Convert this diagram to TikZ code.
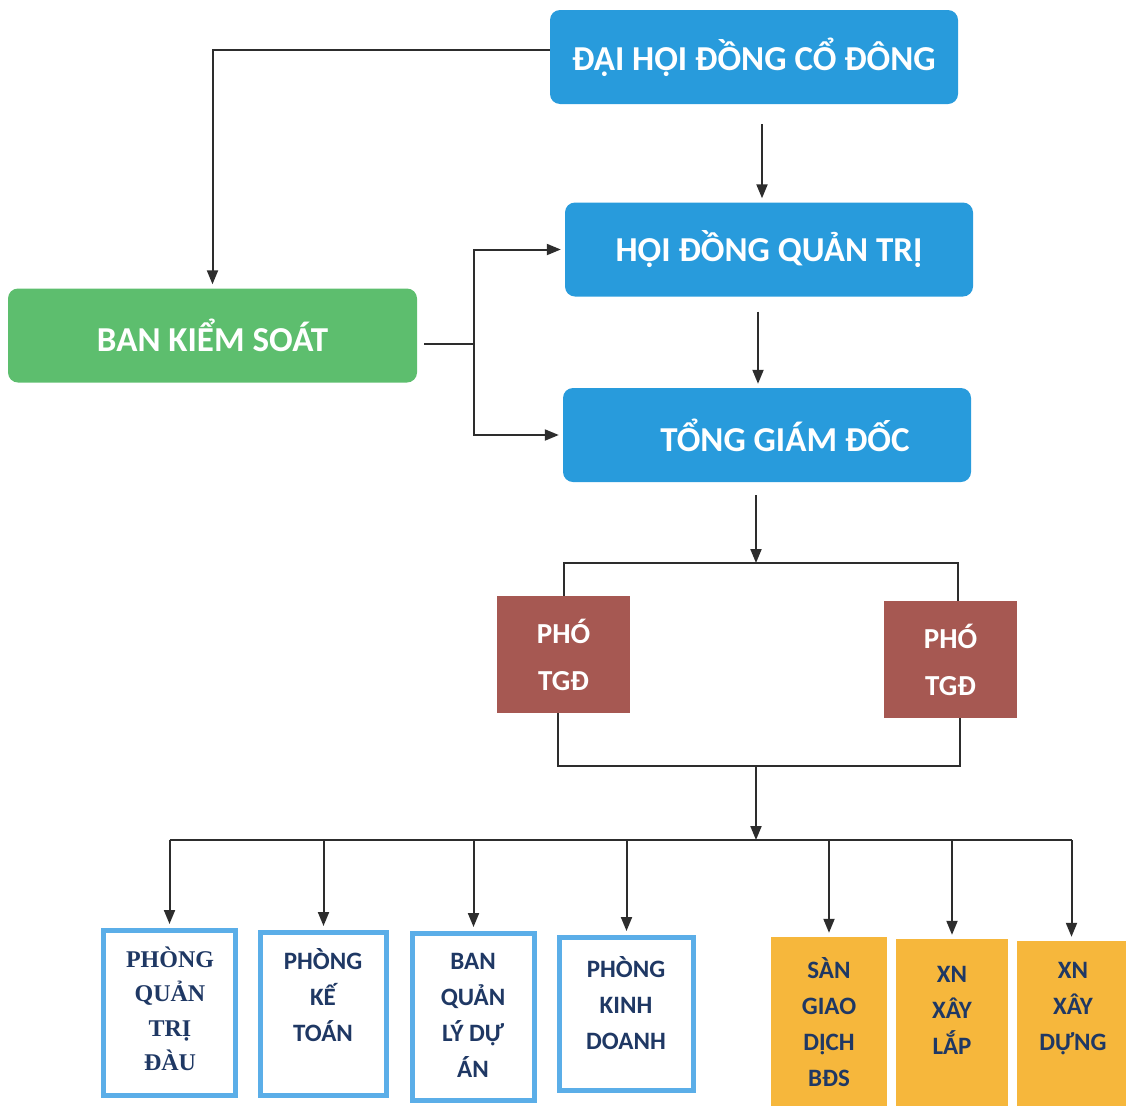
\documentclass[tikz,border=0pt]{standalone}
\usepackage{fontspec}
\setmainfont{Carlito}
\newfontfamily\serifbox{Liberation Serif}
\usetikzlibrary{positioning,arrows.meta}

\definecolor{topblue}{RGB}{40,155,220}
\definecolor{ksgreen}{RGB}{93,190,110}
\definecolor{phored}{RGB}{166,88,82}
\definecolor{deptblue}{RGB}{91,174,232}
\definecolor{unitorange}{RGB}{246,183,60}
\definecolor{deptnavy}{RGB}{31,56,100}
\definecolor{linegray}{RGB}{45,45,45}

\begin{document}
\begin{tikzpicture}[x=1pt,y=-1pt,
  topbox/.style={fill=topblue, rounded corners=10pt, text=white, inner sep=0pt,
    font=\bfseries\fontsize{35}{42}\selectfont, minimum width=408pt, minimum height=94pt},
  phobox/.style={fill=phored, text=white, inner sep=0pt, align=center,
    font=\bfseries\fontsize{29}{47}\selectfont, minimum width=133pt, minimum height=117pt},
  deptbox/.style={draw=deptblue, line width=5pt, fill=white, inner sep=0pt},
  unitbox/.style={fill=unitorange, inner sep=0pt},
  depttext/.style={text=deptnavy, inner sep=0pt, align=center,
    font=\bfseries\fontsize{25}{36}\selectfont},
  link/.style={draw=linegray, line width=2pt},
  arr/.style={link, -{Triangle[length=14pt,width=11pt]}, shorten >=4pt}]
\useasboundingbox (0,0) rectangle (1126,1106);
% Top boxes
\node[topbox] (dhdcd) at (754,57) {ĐẠI HỘI ĐỒNG CỔ ĐÔNG};
\node[topbox] (hdqt) at (769,249.5) {HỘI ĐỒNG QUẢN TRỊ};
\node[topbox] (tgd) at (767,435) {\hspace*{36pt}TỔNG GIÁM ĐỐC};
\node[topbox, fill=ksgreen, minimum width=409pt] (bks) at (212.5,335.5) {BAN KIỂM SOÁT};
% Deputies
\node[phobox] (pho1) at (563.5,654.5) {PHÓ\\TGĐ};
\node[phobox] (pho2) at (950.5,659.5) {PHÓ\\TGĐ};
% Departments
\node[deptbox, minimum width=132pt, minimum height=165pt] (b1) at (169.5,1013) {};
\node[deptbox, minimum width=126pt, minimum height=163pt] (b2) at (323.5,1014) {};
\node[deptbox, minimum width=122pt, minimum height=167pt] (b3) at (473.5,1017) {};
\node[deptbox, minimum width=134pt, minimum height=153pt] (b4) at (626.5,1014) {};
\node[unitbox, minimum width=116pt, minimum height=169pt] (b5) at (829,1021.5) {};
\node[unitbox, minimum width=112pt, minimum height=167pt] (b6) at (952,1022.5) {};
\node[unitbox, minimum width=109pt, minimum height=165pt] (b7) at (1071.5,1023.5) {};
\node[depttext, font=\serifbox\bfseries\fontsize{24}{34.5}\selectfont] (t1) at (170,1009) {PHÒNG\\QUẢN\\TRỊ\\ĐÀU};
\node[depttext] (t2) at (323,995) {PHÒNG\\KẾ\\TOÁN};
\node[depttext] (t3) at (473,1015) {BAN\\QUẢN\\LÝ DỰ\\ÁN};
\node[depttext] (t4) at (626,1003) {PHÒNG\\KINH\\DOANH};
\node[depttext] (t5) at (829,1022) {SÀN\\GIAO\\DỊCH\\BĐS};
\node[depttext] (t6) at (952,1010) {XN\\XÂY\\LẮP};
\node[depttext] (t7) at (1073,1009) {XN\\XÂY\\DỰNG};
% Connectors
\draw[arr] ([yshift=7pt]dhdcd.west) -| (bks.north);
\draw[arr] ([xshift=8pt,yshift=-20pt]dhdcd.south) -- ([xshift=-7pt]hdqt.north);
\draw[arr] ([xshift=-11pt,yshift=-15pt]hdqt.south) -- ([xshift=-9pt]tgd.north);
\draw[link] ([xshift=7pt,yshift=-8pt]bks.east) -- ++(50,0) coordinate (fork);
\draw[arr] (fork) |- (hdqt.west);
\draw[arr] (fork) |- (tgd.west);
\coordinate (busA) at (756,563);
\coordinate (busB) at (756,766);
\coordinate (busC) at (756,840);
\draw[arr, shorten >=0pt] ([xshift=-11pt,yshift=-13pt]tgd.south) -- (busA);
\draw[link] (pho1.north) |- (busA) -| ([xshift=7pt]pho2.north);
\draw[link] ([xshift=-6pt]pho1.south) |- (busB) -| ([xshift=9pt]pho2.south);
\draw[arr, shorten >=0pt] (busB) -- (busC);
\draw[link] (b1.north |- busC) -- (b7.north |- busC);
\foreach \i in {1,...,7}
  \draw[arr] (b\i.north |- busC) -- (b\i.north);
\end{tikzpicture}
\end{document}
